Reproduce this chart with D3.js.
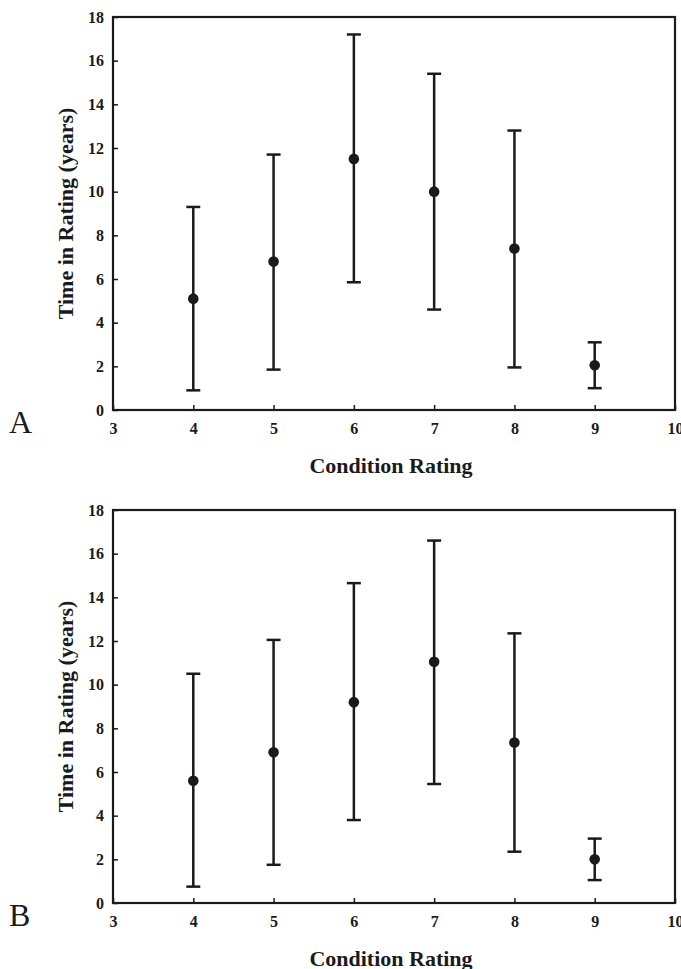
<!DOCTYPE html>
<html>
<head>
<meta charset="utf-8">
<script src="https://cdn.jsdelivr.net/npm/d3@7"></script>
<style>
  body { margin: 0; background: #fff; }
  text { font-family: "Liberation Serif", "DejaVu Serif", serif; fill: #1a1a1a; }
</style>
</head>
<body>
<svg id="chart" width="681" height="969"></svg>
<script>
// condition ratings on the x axis
var ratings = [4, 5, 6, 7, 8, 9];

// panel A: mean time in rating and the ends of the bars
var meanA = [5.1, 6.8, 11.5, 10.0, 7.4, 2.05];
var lowA  = [0.9, 1.85, 5.85, 4.6, 1.95, 1.0];
var highA = [9.3, 11.7, 17.2, 15.4, 12.8, 3.1];

// panel B
var meanB = [5.6, 6.9, 9.2, 11.05, 7.35, 2.0];
var lowB  = [0.75, 1.75, 3.8, 5.45, 2.35, 1.05];
var highB = [10.5, 12.05, 14.65, 16.6, 12.35, 2.95];

var xTicks = [3, 4, 5, 6, 7, 8, 9, 10];
var yTicks = [0, 2, 4, 6, 8, 10, 12, 14, 16, 18];

var ink = "#1a1a1a";
var svg = d3.select("#chart");

var left = 113, right = 675, plotH = 393;

var x = d3.scaleLinear().domain([3, 10]).range([left, right]);

var drawPanel = function(top, means, lows, highs, letter){
    var y = d3.scaleLinear().domain([0, 18]).range([top + plotH, top]);
    var g = svg.append("g");

    var pts = ratings.map(function(r, i){
        return {x: r, mean: means[i], lo: lows[i], hi: highs[i]};
    });

    // axes with inward ticks
    var yAxis = g.append("g")
        .attr("transform", "translate(" + left + ",0)")
        .call(d3.axisLeft(y).tickValues(yTicks).tickFormat(d3.format("d"))
            .tickSize(-5).tickPadding(9));
    var xAxis = g.append("g")
        .attr("transform", "translate(0," + (top + plotH) + ")")
        .call(d3.axisBottom(x).tickValues(xTicks).tickFormat(d3.format("d"))
            .tickSize(-5).tickPadding(13));

    [yAxis, xAxis].forEach(function(a){
        a.select(".domain").remove();
        a.selectAll("line").attr("stroke", ink).attr("stroke-width", 1.5);
        a.selectAll("text")
            .style("font-family", "'Liberation Serif', serif")
            .style("font-weight", "bold")
            .style("font-size", "16px")
            .attr("fill", ink);
    });

    // frame
    g.append("rect")
        .attr("x", left).attr("y", top)
        .attr("width", right - left).attr("height", plotH)
        .attr("fill", "none")
        .attr("stroke", ink)
        .attr("stroke-width", 2.2);

    // error bars
    g.selectAll(".bar").data(pts).enter().append("line")
        .attr("x1", function(d){ return x(d.x); })
        .attr("x2", function(d){ return x(d.x); })
        .attr("y1", function(d){ return y(d.lo); })
        .attr("y2", function(d){ return y(d.hi); })
        .attr("stroke", ink).attr("stroke-width", 2.5);

    g.selectAll(".capHi").data(pts).enter().append("line")
        .attr("x1", function(d){ return x(d.x) - 7; })
        .attr("x2", function(d){ return x(d.x) + 7; })
        .attr("y1", function(d){ return y(d.hi); })
        .attr("y2", function(d){ return y(d.hi); })
        .attr("stroke", ink).attr("stroke-width", 2.5);

    g.selectAll(".capLo").data(pts).enter().append("line")
        .attr("x1", function(d){ return x(d.x) - 7; })
        .attr("x2", function(d){ return x(d.x) + 7; })
        .attr("y1", function(d){ return y(d.lo); })
        .attr("y2", function(d){ return y(d.lo); })
        .attr("stroke", ink).attr("stroke-width", 2.5);

    g.selectAll("circle").data(pts).enter().append("circle")
        .attr("cx", function(d){ return x(d.x); })
        .attr("cy", function(d){ return y(d.mean); })
        .attr("r", 5.3)
        .attr("fill", ink);

    // axis titles
    g.append("text")
        .attr("transform", "translate(73," + (top + plotH / 2) + ") rotate(-90)")
        .attr("text-anchor", "middle")
        .style("font-weight", "bold")
        .style("font-size", "22px")
        .text("Time in Rating (years)");

    g.append("text")
        .attr("x", (left + right) / 2 - 3)
        .attr("y", top + plotH + 63)
        .attr("text-anchor", "middle")
        .style("font-weight", "bold")
        .style("font-size", "22px")
        .text("Condition Rating");

    // panel letter
    g.append("text")
        .attr("x", 9)
        .attr("y", top + plotH + 23)
        .style("font-size", "32px")
        .text(letter);
};

drawPanel(17, meanA, lowA, highA, "A");
drawPanel(510, meanB, lowB, highB, "B");
</script>
</body>
</html>
